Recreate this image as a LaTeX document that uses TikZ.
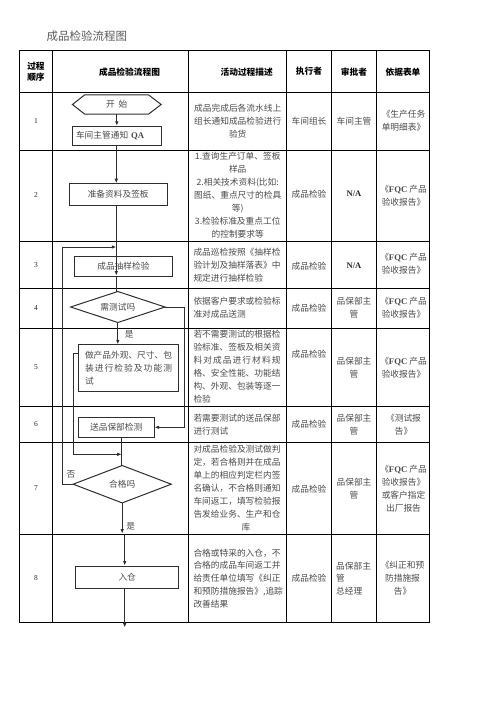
\documentclass[tikz,border=0pt]{standalone}
\usepackage{fontspec}
\setmainfont{Noto Sans CJK SC}
\newfontfamily\tnr{Liberation Serif}
\usetikzlibrary{arrows.meta}
\definecolor{txt}{HTML}{4A4A4A}
\definecolor{ln}{HTML}{2E2E2E}
\definecolor{titlec}{HTML}{5A5A5A}
\newcommand\jline[1]{\makebox[87pt][s]{\jlA#1\jlEnd}}
\def\jlEnd{}
\def\jlA#1{#1\jlB}
\def\jlB#1{\ifx#1\jlEnd\else\hskip 0pt plus 1fil\relax #1\expandafter\jlB\fi}
\tikzset{
  grid/.style={black, line width=0.9pt},
  flow/.style={ln, line width=1pt},
  arr/.style={flow, -{Latex[length=4.5pt,width=3.6pt]}},
  cell/.style={inner sep=0pt, text=txt, font=\fontsize{8.7}{13}\selectfont},
  cellL/.style={cell, align=left, anchor=west},
  cellC/.style={cell, align=center},
  hdr/.style={inner sep=0pt, text=black, font=\fontsize{8.7}{11}\selectfont\bfseries},
  num/.style={inner sep=0pt, text=black!85, font=\tnr\fontsize{7.5}{9}\selectfont},
  boxn/.style={draw=ln, line width=1pt, inner sep=0pt, text=txt, font=\fontsize{8.7}{13}\selectfont},
  blank/.style={inner sep=0pt, text=txt, font=\fontsize{8.7}{13}\selectfont},
  lbl/.style={inner sep=0pt, text=txt, font=\fontsize{8.7}{13}\selectfont},
  na/.style={inner sep=0pt, text=black!85, font=\tnr\bfseries\fontsize{8.5}{10}\selectfont},
}
\begin{document}
\begin{tikzpicture}[x=1pt,y=-1pt]
\useasboundingbox (0,0) rectangle (496,702);
% title
\node[anchor=west, inner sep=0pt, text=titlec, font=\fontsize{11.5}{13}\selectfont] (title) at (46.5,36) {成品检验流程图};
% table grid
\foreach \y in {92.3,150,241,288.3,328.3,406.7,442.3,534}
  \draw[grid] (19.5,\y) -- (429.3,\y);
\foreach \x in {52.7,188.7,286.7,331.3,376.7}
  \draw[grid] (\x,50.5) -- (\x,622.3);
\draw[grid] (19.5,50.5) rectangle (429.3,622.3);
% header
\node[hdr, align=center] (h1) at (36,71.5) {过程\\顺序};
\node[hdr] (h2) at (129.5,71.7) {成品检验流程图};
\node[hdr] (h3) at (246.7,71.7) {活动过程描述};
\node[hdr] (h4) at (309,71.7) {执行者};
\node[hdr] (h5) at (354,71.7) {审批者};
\node[hdr] (h6) at (403,71.7) {依据表单};
% row numbers
\foreach \n/\y in {1/121,2/195,3/265.5,4/308,5/367,6/424,7/488,8/578}
  \node[num] (n\n) at (36,\y) {\n};
% flowchart nodes
\node[blank, minimum width=88.3pt, minimum height=19pt] (start) at (116.8,104.5) {开\hspace{0.45em}始};
\draw[flow] (start.west) -- ([xshift=12.3pt]start.north west) -- ([xshift=-12.7pt]start.north east) -- (start.east) -- ([xshift=-12.7pt]start.south east) -- ([xshift=12.3pt]start.south west) -- cycle;
\node[boxn, minimum width=88.6pt, minimum height=19pt, text width=82pt, inner xsep=3.3pt, align=left] (notify) at (117,135.8) {车间主管通知 {\tnr\bfseries QA}};
\node[boxn, minimum width=98.3pt, minimum height=21.6pt] (prep) at (118.2,194.5) {准备资料及签板};
\node[boxn, minimum width=97.8pt, minimum height=20pt] (sample) at (123.4,266.5) {成品抽样检验};
\node[blank, minimum width=94pt, minimum height=30.6pt] (need) at (117.8,307) {需测试吗};
\draw[flow] (need.north) -- (need.east) -- (need.south) -- (need.west) -- cycle;
\node[boxn, minimum width=100.4pt, minimum height=46.3pt, text width=87pt, inner xsep=6.7pt, align=left] (check) at (128.5,368) {做产品外观、尺寸、包\\\jline{装进行检验及功能测}\\试};
\node[boxn, minimum width=75.7pt, minimum height=20pt] (send) at (116.2,427.3) {送品保部检测};
\node[blank, minimum width=97.7pt, minimum height=37pt] (ok) at (122.2,484.2) {合格吗};
\draw[flow] (ok.north) -- (ok.east) -- (ok.south) -- (ok.west) -- cycle;
\node[boxn, minimum width=103pt, minimum height=22.3pt] (store) at (127.2,577.2) {入仓};
% helper coordinates
\coordinate (j1) at (116.3,247);
\coordinate (lp) at (62.5,247);
\coordinate (rt) at (184.3,307);
\coordinate (m) at (121.7,454.3);
\coordinate (c1) at (122,533.5);
\coordinate (c2) at (124.7,533.5);
\coordinate (endp) at (124.7,627.5);
% connectors
\draw[arr] (start.south) -- (start.south |- notify.north);
\draw[arr] (j1 |- notify.south) -- (j1 |- prep.north);
\draw[arr, shorten >=1.5pt] (j1 |- prep.south) -- (j1 |- sample.south);
\draw[flow] (j1 |- sample.south) -- (j1 |- need.north);
\draw[arr] (ok.west) -- (ok.west -| lp) |- (j1);
\node[lbl] (no) at (71,474.5) {否};
\draw[arr] (need.south) -- (need.south |- check.north);
\node[lbl] (yes1) at (129.3,334) {是};
\draw[arr] (need.east) -- (need.east -| rt) |- (send.east);
\draw[arr] ([yshift=15pt]check.west) -- ++(-4.3,0) |- (m);
\draw[flow] (m |- send.south) -- (m |- ok.north);
\draw[arr] (ok.south) -- (ok.south |- c1);
\node[lbl] (yes2) at (130.7,526) {是};
\draw[arr] (c2) -- (c2 |- store.north);
\draw[arr] (c2 |- store.south) -- (endp);
% activity description column
\node[cellC] (d1) at (237.7,121.3) {成品完成后各流水线上\\组长通知成品检验进行\\验货};
\node[cellC, font=\fontsize{8.7}{13.1}\selectfont] (d2) at (237.7,195) {1.查询生产订单、签板\\样品\\2.相关技术资料(比如:\\图纸、重点尺寸的检具\\等)\\3.检验标准及重点工位\\的控制要求等};
\node[cellL] (d3) at (193.3,265) {成品巡检按照《抽样检\\验计划及抽样落表》中\\规定进行抽样检验};
\node[cellL] (d4) at (193.3,307.5) {依据客户要求或检验标\\准对成品送测};
\node[cellL, font=\fontsize{8.7}{13.06}\selectfont] (d5) at (193.3,366.7) {若不需要测试的根据检\\验标准、签板及相关资\\\jline{料对成品进行材料规}\\格、安全性能、功能结\\构、外观、包装等逐一\\检验};
\node[cellL] (d6) at (193.3,424.7) {若需要测试的送品保部\\进行测试};
\node[cellL, font=\fontsize{8.7}{13.1}\selectfont] (d7) at (193.3,488.3) {对成品检验及测试做判\\定，若合格则并在成品\\单上的相应判定栏内签\\名确认，不合格则通知\\车间返工，填写检验报\\告发给业务、生产和仓\\\hspace*{48pt}库};
\node[cellL, font=\fontsize{8.7}{12.8}\selectfont] (d8) at (193.3,578.3) {合格或特采的入仓，不\\合格的成品车间返工并\\给责任单位填写《纠正\\\jline{和预防措施报告》,追踪}\\改善结果};
% executor column
\node[cellC] (e1) at (309,121) {车间组长};
\node[cellC] (e2) at (309,193.7) {成品检验};
\node[cellC] (e3) at (309,265.7) {成品检验};
\node[cellC] (e4) at (309,308.3) {成品检验};
\node[cellC] (e5) at (309,354) {成品检验};
\node[cellC] (e6) at (309,424.3) {成品检验};
\node[cellC] (e7) at (309,489) {成品检验};
\node[cellC] (e8) at (309,578.3) {成品检验};
% approver column
\node[cellC] (a1) at (354,121) {车间主管};
\node[na] (a2) at (354,193.7) {N/A};
\node[na] (a3) at (354,265.7) {N/A};
\node[cellC] (a4) at (354,307.5) {品保部主\\管};
\node[cellC] (a5) at (354,367.5) {品保部主\\管};
\node[cellC] (a6) at (354,424.7) {品保部主\\管};
\node[cellC] (a7) at (354,489) {品保部主\\管};
\node[cellL, font=\fontsize{8.7}{12.5}\selectfont] (a8) at (336,578.5) {品保部主\\管\\总经理};
% form column
\node[cellC] (f1) at (403.5,120.7) {《生产任务\\单明细表》};
\node[cellC] (f2) at (403.5,195.7) {《{\tnr\bfseries FQC} 产品\\验收报告》};
\node[cellC] (f3) at (403.5,264.2) {《{\tnr\bfseries FQC} 产品\\验收报告》};
\node[cellC] (f4) at (403.5,307.5) {《{\tnr\bfseries FQC} 产品\\验收报告》};
\node[cellC] (f5) at (403.5,367.5) {《{\tnr\bfseries FQC} 产品\\验收报告》};
\node[cellC] (f6) at (403.5,424.7) {《测试报\\告》};
\node[cellC, font=\fontsize{8.7}{13.1}\selectfont] (f7) at (403.5,488.7) {《{\tnr\bfseries FQC} 产品\\验收报告》\\或客户指定\\出厂报告};
\node[cellC] (f8) at (402.5,578.3) {《纠正和预\\防措施报\\告》};
\end{tikzpicture}
\end{document}
